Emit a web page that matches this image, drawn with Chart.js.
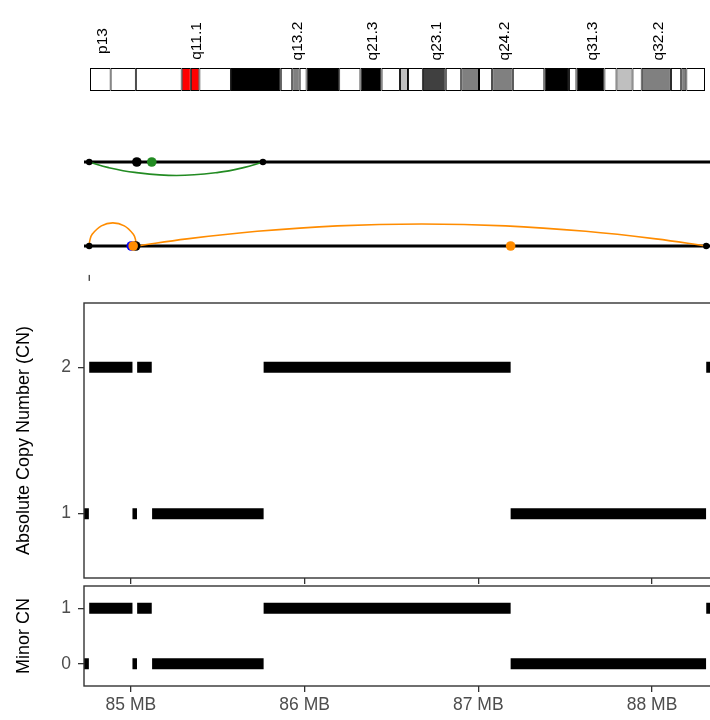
<!DOCTYPE html>
<html><head><meta charset="utf-8">
<script src="https://cdn.jsdelivr.net/npm/chart.js@4.4.1/dist/chart.umd.min.js"></script>
<style>
html,body{margin:0;padding:0;background:#fff;width:710px;height:720px;overflow:hidden;position:relative}
canvas{position:absolute;left:0}
</style></head><body>
<canvas id="ideo" width="740" height="100" style="top:0px"></canvas>
<canvas id="arcs" width="740" height="190" style="top:100px"></canvas>
<canvas id="cn" width="740" height="292" style="top:298px"></canvas>
<canvas id="minor" width="740" height="139" style="top:581px"></canvas>
<script>
// ---------- data ----------
const chrLength = 107.35;
const bandName  = ['p13','p12','p11.2','p11.1','q11.1','q11.2','q12','q13.1','q13.2','q13.3','q21.1','q21.2','q21.3','q22.1','q22.2','q22.3','q23.1','q23.2','q23.3','q24.1','q24.2','q24.3','q31.1','q31.2','q31.3','q32.11','q32.12','q32.13','q32.2','q32.31','q32.32','q32.33'];
const bandStart = [0,3.6,8.0,16.0,17.6,19.1,24.6,33.3,35.3,36.6,37.8,43.5,47.2,50.9,54.1,55.5,58.1,62.1,64.8,67.9,70.2,73.8,79.3,83.6,84.9,89.8,91.9,94.7,96.3,101.4,103.2,104.1];
const bandEnd   = [3.6,8.0,16.0,17.6,19.1,24.6,33.3,35.3,36.6,37.8,43.5,47.2,50.9,54.1,55.5,58.1,62.1,64.8,67.9,70.2,73.8,79.3,83.6,84.9,89.8,91.9,94.7,96.3,101.4,103.2,104.1,107.35];
const bandStain = ['gvar','stalk','gvar','acen','acen','gneg','gpos100','gneg','gpos50','gneg','gpos100','gneg','gpos100','gneg','gpos25','gneg','gpos75','gneg','gpos50','gneg','gpos50','gneg','gpos100','gneg','gpos100','gneg','gpos25','gneg','gpos50','gneg','gpos50','gneg'];
const labeledBands = ['p13','q11.1','q13.2','q21.3','q23.1','q24.2','q31.3','q32.2'];

const xMin = 84.73, xMax = 88.42;
const xTicks = [85, 86, 87, 88];
const xTickLabels = ['85 MB', '86 MB', '87 MB', '88 MB'];

// copy-number segments
const segStart   = [84.72, 84.760, 85.009, 85.036, 85.122, 85.764, 87.186, 88.312];
const segEnd     = [84.758, 85.009, 85.035, 85.120, 85.764, 87.186, 88.311, 88.50];
const segTotalCN = [1, 2, 1, 2, 1, 2, 1, 2];
const segMinorCN = [0, 1, 0, 1, 0, 1, 0, 1];
const cnTicks = [1, 2];
const minorTicks = [0, 1];

// structural-variant arcs (track baseline + offset read at points along each arc)
const svClass = ['green', 'orange', 'orange'];
const svTrack = [1, 0, 0];
const arcX = [
  [84.76, 84.872, 85.022, 85.263, 85.504, 85.648, 85.76],
  [84.76, 84.764, 84.777, 84.830, 84.896, 84.962, 85.014, 85.027, 85.031],
  [85.035, 85.323, 85.727, 86.188, 86.673, 87.157, 87.618, 88.022, 88.312]
];
const arcOffset = [
  [0, -0.067, -0.124, -0.161, -0.124, -0.067, 0],
  [0, 0.07, 0.14, 0.24, 0.275, 0.24, 0.14, 0.07, 0],
  [0, 0.085, 0.175, 0.24, 0.262, 0.24, 0.175, 0.085, 0]
];

// breakpoints on tracks (drawn in order)
const bpX     = [84.76, 85.76, 85.034, 85.120, 84.76, 88.312, 85.002, 85.028, 85.013, 87.186];
const bpTrack = [1, 1, 1, 1, 0, 0, 0, 0, 0, 0];
const bpClass = ['end','end','cn','green','end','end','blue','cn','orange','orange'];
const stubX = [84.76];
const stubY = [-0.38];

// ---------- styles ----------
const stainColor = {gneg:'#FFFFFF', gvar:'#FFFFFF', stalk:'#FFFFFF', gpos25:'#BFBFBF', gpos50:'#808080', gpos75:'#404040', gpos100:'#000000', acen:'#FF0000'};
const classColor = {green:'#228B22', orange:'#FF8C00', blue:'#0000FF', cn:'#000000', end:'#000000'};
const classRadius = {green:4.8, orange:4.8, blue:4.8, cn:4.8, end:3.2};
const FONT = "'Liberation Sans', Arial, Helvetica, sans-serif";
Chart.defaults.font.family = FONT;
const AXIS = '#333333', TICK = '#4d4d4d';

const common = {responsive:false, animation:false, devicePixelRatio:1,
  plugins:{legend:{display:false}, tooltip:{enabled:false}}, events:[]};

// ---------- plugins ----------
const bandLabelPlugin = {id:'bandLabels', afterDatasetsDraw(chart){
  const ctx = chart.ctx, xs = chart.scales.x, top = chart.chartArea.top;
  ctx.save();
  ctx.font = '15.5px ' + FONT; ctx.fillStyle = '#000';
  ctx.textAlign = 'center'; ctx.textBaseline = 'middle';
  bandName.forEach((n,i)=>{
    if (!labeledBands.includes(n)) return;
    const x = xs.getPixelForValue((bandStart[i]+bandEnd[i])/2);
    ctx.save(); ctx.translate(x + 2, top - 27); ctx.rotate(-Math.PI/2); ctx.fillText(n, 0, 0); ctx.restore();
  });
  ctx.restore();
}};
const panelBorder = {id:'panelBorder', afterDraw(chart){
  const {ctx, chartArea:a} = chart;
  ctx.save(); ctx.strokeStyle = AXIS; ctx.lineWidth = 1.4;
  ctx.strokeRect(a.left, a.top, a.right - a.left, a.bottom - a.top);
  ctx.restore();
}};

// ---------- ideogram ----------
new Chart(document.getElementById('ideo'), {
  type:'bar',
  data:{labels:['chr14'], datasets: bandName.map((n,i)=>({
    label:n, data:[[bandStart[i], bandEnd[i]]],
    backgroundColor: stainColor[bandStain[i]], borderColor:'#000', borderWidth:1,
    borderSkipped:false, grouped:false, barPercentage:1, categoryPercentage:1, inflateAmount:0
  }))},
  options:Object.assign({}, common, {
    indexAxis:'y',
    layout:{autoPadding:false, padding:{left:90, right:35, top:68, bottom:9}},
    scales:{x:{type:'linear', min:0, max:chrLength, display:false}, y:{display:false}}
  }),
  plugins:[bandLabelPlugin]
});

// ---------- arcs ----------
const arcDatasets = [];
arcDatasets.push({type:'scatter', data: bpX.map((x,i)=>({x, y:bpTrack[i]})),
  pointRadius: bpClass.map(c=>classRadius[c]), pointBackgroundColor: bpClass.map(c=>classColor[c]),
  pointBorderWidth:0, showLine:false, order:0, clip:false});
arcDatasets.push({type:'scatter', data: stubX.map((x,i)=>({x, y:stubY[i]})), pointStyle:'line', rotation:90,
  pointRadius:3, pointBorderColor:'#000', pointBorderWidth:1, showLine:false, order:0, clip:false});
arcX.forEach((xs,k)=>{
  arcDatasets.push({type:'line', data: xs.map((x,j)=>({x, y: svTrack[k] + arcOffset[k][j]})),
    borderColor: classColor[svClass[k]], borderWidth:1.6, pointRadius:0, tension:0.4,
    fill:false, order:1, clip:false});
});
[1, 0].forEach(t=>{
  arcDatasets.push({type:'line', data:[{x:xMin, y:t}, {x:xMax, y:t}], borderColor:'#000', borderWidth:3,
    pointRadius:0, order:2, clip:false});
});
new Chart(document.getElementById('arcs'), {
  type:'line',
  data:{datasets:arcDatasets},
  options:Object.assign({}, common, {
    layout:{autoPadding:false, padding:{left:84, right:15, top:0, bottom:0}},
    scales:{x:{type:'linear', min:xMin, max:xMax, display:false}, y:{type:'linear', min:-0.524, max:1.738, display:false}}
  })
});

// ---------- copy number panels ----------
function segData(values){
  const out = [];
  segStart.forEach((s,i)=>{ out.push({x:s, y:values[i]}, {x:segEnd[i], y:values[i]}, {x:segEnd[i], y:null}); });
  return out;
}
function panel(id, values, yMin, yMax, yTicks, title, xLabels, xHeight, padTop){
  return new Chart(document.getElementById(id), {
    type:'line',
    data:{datasets:[{data:segData(values), borderColor:'#000', borderWidth:11, borderCapStyle:'butt',
      pointRadius:0, spanGaps:false, tension:0, clip:0}]},
    options:Object.assign({}, common, {
      layout:{autoPadding:false, padding:{left:0, right:15, top:padTop, bottom:0}},
      scales:{
        x:{type:'linear', min:xMin, max:xMax,
          afterBuildTicks:s=>{ s.ticks = xTicks.map(v=>({value:v})); },
          afterFit:s=>{ s.height = xHeight; s.paddingLeft = 0; s.paddingRight = 0; s.paddingTop = 0; s.paddingBottom = 0; },
          grid:{drawOnChartArea:false, drawTicks:true, tickLength:6, color:AXIS, lineWidth:1.3},
          border:{display:false},
          ticks:{display:xLabels, padding:3, color:TICK, font:{size:17.5}, callback:(v,i)=>xTickLabels[i], maxRotation:0, autoSkip:false}},
        y:{type:'linear', min:yMin, max:yMax,
          afterBuildTicks:s=>{ s.ticks = yTicks.map(v=>({value:v})); },
          afterFit:s=>{ s.width = 84; s.paddingTop = 0; s.paddingBottom = 0; s.paddingLeft = 0; s.paddingRight = 0; },
          grid:{drawOnChartArea:false, drawTicks:true, tickLength:6, color:AXIS, lineWidth:1.3},
          border:{display:false},
          ticks:{padding:7, color:TICK, font:{size:17.5}, callback:v=>String(v)},
          title:{display:true, text:title, color:'#000', font:{size:18}, padding:{top:13, bottom:0}}}
      }
    }),
    plugins:[panelBorder]
  });
}
panel('cn', segTotalCN, 0.56, 2.44, cnTicks, 'Absolute Copy Number (CN)', false, 12, 5);
panel('minor', segMinorCN, -0.4, 1.4, minorTicks, 'Minor CN', true, 34, 5);
</script>
</body></html>
